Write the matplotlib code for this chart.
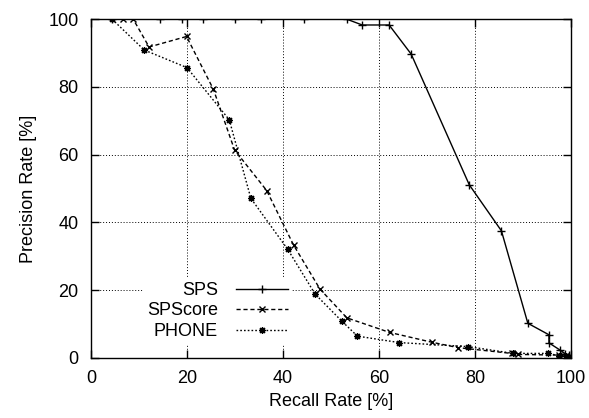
import matplotlib
matplotlib.use("Agg")
import matplotlib.pyplot as plt

plt.rcParams['font.family'] = ['Liberation Sans', 'DejaVu Sans']

# values (recall %, precision %)
sps_recall = [4.4, 14.4, 18.9, 23.3, 29.9, 35.5, 44.3, 53.3, 56.5, 62.1, 66.7,
              78.8, 85.5, 91.0, 95.4, 95.4, 97.7, 98.8, 99.5, 100.0]
sps_prec = [100, 100, 100, 100, 100, 100, 100, 100, 98.3, 98.3, 89.7,
            51.1, 37.5, 10.2, 6.8, 4.4, 2.3, 1.2, 0.8, 0.5]

spscore_recall = [6.7, 8.8, 12.1, 19.9, 25.5, 29.9, 36.6, 42.2, 47.7, 53.3,
                  62.2, 71.0, 76.5, 87.6, 89.0, 97.5, 99.0, 100.0]
spscore_prec = [100, 100, 91.8, 94.9, 79.3, 61.4, 49.4, 33.3, 20.3, 11.8,
                7.5, 4.6, 3.0, 1.3, 1.0, 0.8, 0.5, 0.3]

phone_recall = [4.4, 11.1, 20.0, 28.8, 33.3, 41.0, 46.7, 52.2, 55.5, 64.2,
                78.6, 88.0, 95.3, 97.5, 99.0, 100.0]
phone_prec = [100, 90.9, 85.7, 70.3, 47.1, 32.0, 18.8, 10.9, 6.4, 4.5,
              3.3, 1.3, 1.3, 0.6, 0.4, 0.3]

ticks = [0, 20, 40, 60, 80, 100]

fig = plt.figure(figsize=(5.89, 4.18), dpi=100)
ax = fig.add_axes([0.1545, 0.144, 0.815, 0.81])

asterisk = (8, 2, 0)
ax.plot(sps_recall, sps_prec, color='black', lw=1.0, ls='-',
        marker='+', ms=6, mew=1.0, label='SPS', zorder=3)
ax.plot(spscore_recall, spscore_prec, color='black', lw=1.0, ls=(0, (3, 2)),
        marker='x', ms=5, mew=1.0, label='SPScore', zorder=3)
ax.plot(phone_recall, phone_prec, color='black', lw=1.0, ls=(0, (1.2, 1.5)),
        marker=asterisk, ms=5, mew=0.9, label='PHONE', zorder=3)

ax.set_xlim(0, 100)
ax.set_ylim(0, 100)
ax.set_xticks(ticks)
ax.set_yticks(ticks)
ax.tick_params(direction='in', length=6, width=1, labelsize=13,
               top=True, right=True, pad=9)
ax.grid(True, color='black', ls=(0, (1, 2)), lw=0.7)
for s in ax.spines.values():
    s.set_linewidth(1.0)

ax.set_xlabel('Recall Rate [%]', fontsize=13, labelpad=4)
ax.set_ylabel('Precision Rate [%]', fontsize=13, labelpad=8)

leg = ax.legend(loc='lower left', bbox_to_anchor=(0.09, 0.015),
                markerfirst=False, fontsize=13, frameon=True,
                handlelength=2.9, labelspacing=0.2, borderpad=0.2,
                handletextpad=1.0, fancybox=False)
leg.get_frame().set_edgecolor('none')
leg.get_frame().set_facecolor('white')
leg.get_frame().set_alpha(1.0)
for t in leg.get_texts():
    t.set_ha('right')
leg.set_zorder(4)

fig.savefig('out.png', dpi=100)
